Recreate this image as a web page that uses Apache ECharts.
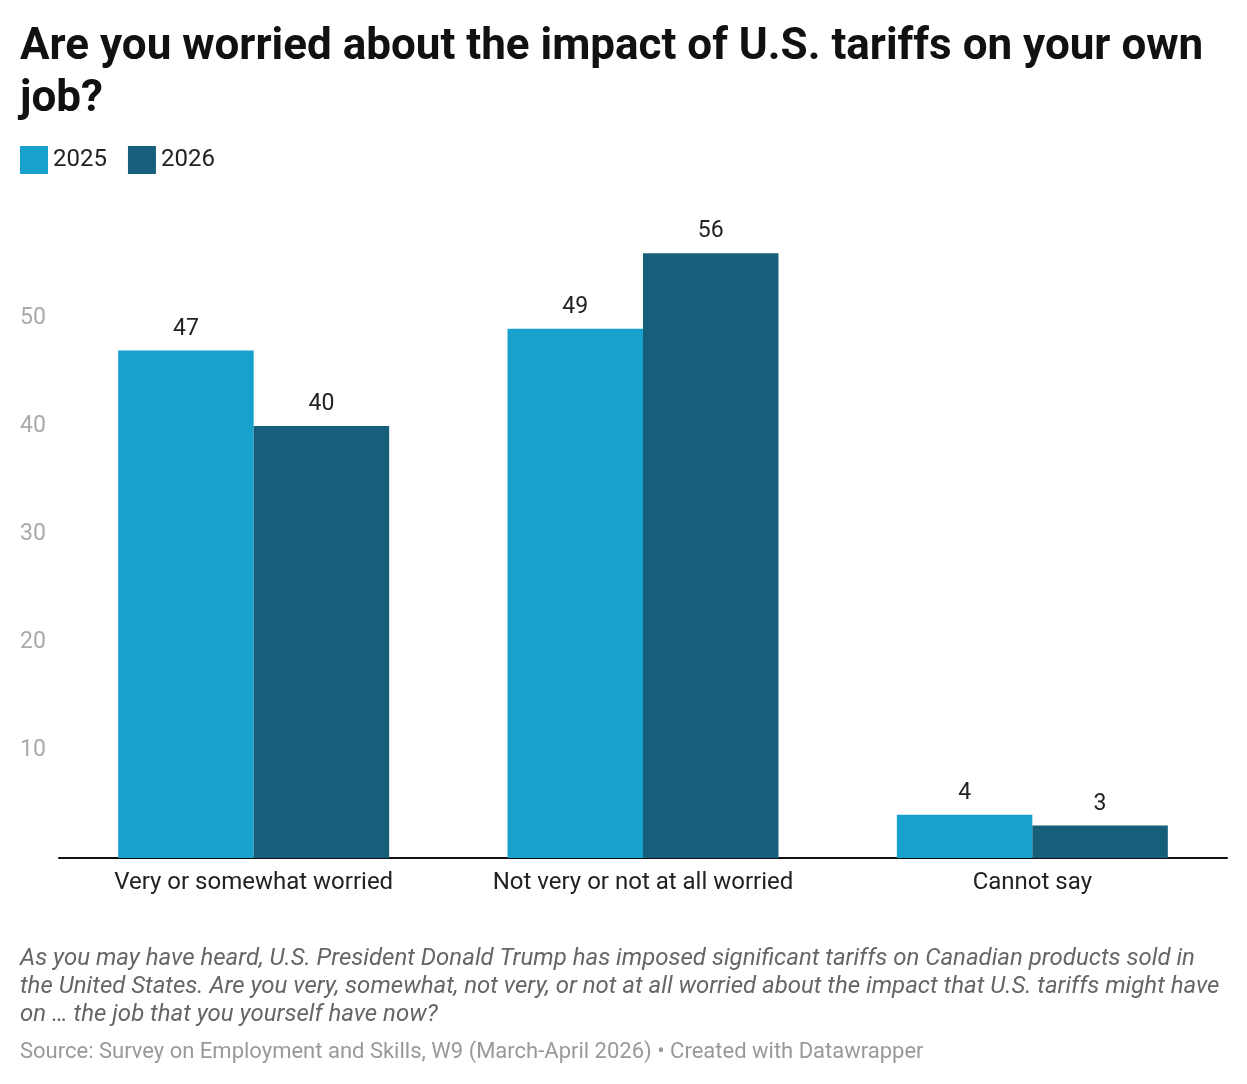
<!DOCTYPE html>
<html style="height: 100%">
<head>
    <meta charset="UTF-8">
    <title>U.S. tariffs</title>
</head>
<body style="height: 100%; margin: 0; background: #fff">
<div id="container" style="height: 100%"></div>
<script src="https://cdn.jsdelivr.net/npm/echarts@6/dist/echarts.min.js"></script>
<script>
    var categories = ['Very or somewhat worried', 'Not very or not at all worried', 'Cannot say'];
    var years = ['2025', '2026'];
    var values2025 = [47, 49, 4];
    var values2026 = [40, 56, 3];
    var yTicks = [10, 20, 30, 40, 50];

    var colors = ['#19a1cd', '#165f7a'];
    var font = 'Roboto, "Noto Sans", sans-serif';

    var myChart = echarts.init(document.getElementById('container'));
    var option = {
        animation: false,
        textStyle: { fontFamily: font },
        title: [
            {
                text: 'Are you worried about the impact of U.S. tariffs on your own\njob?',
                left: 20,
                top: 22,
                padding: 0,
                textStyle: { fontSize: 44, fontWeight: 'bold', color: '#111', lineHeight: 52, fontFamily: font }
            },
            {
                text: 'As you may have heard, U.S. President Donald Trump has imposed significant tariffs on Canadian products sold in\nthe United States. Are you very, somewhat, not very, or not at all worried about the impact that U.S. tariffs might have\non … the job that you yourself have now?',
                left: 20,
                top: 945,
                padding: 0,
                textStyle: { fontSize: 24, fontStyle: 'italic', fontWeight: 'normal', color: '#666', lineHeight: 28, fontFamily: font }
            },
            {
                text: 'Source: Survey on Employment and Skills, W9 (March-April 2026) • Created with Datawrapper',
                left: 20,
                top: 1041,
                padding: 0,
                textStyle: { fontSize: 22, fontWeight: 'normal', color: '#999', fontFamily: font }
            }
        ],
        legend: {
            left: 20,
            top: 146,
            padding: 0,
            itemWidth: 28,
            itemHeight: 28,
            itemGap: 21,
            icon: 'rect',
            textStyle: { fontSize: 24, color: '#222' },
            data: years
        },
        grid: { left: 59, right: 20, top: 210, bottom: 226, containLabel: false },
        xAxis: {
            type: 'category',
            data: categories,
            axisLine: { lineStyle: { color: '#111', width: 2 } },
            axisTick: { show: false },
            axisLabel: { fontSize: 24, color: '#222', margin: 13, interval: 0, hideOverlap: false }
        },
        yAxis: {
            type: 'value',
            min: 0,
            max: 60,
            interval: 10,
            splitLine: { show: false },
            axisLine: { show: false },
            axisTick: { show: false },
            axisLabel: {
                fontSize: 23,
                color: '#aaa',
                align: 'left',
                margin: 39,
                formatter: function (v) { return yTicks.indexOf(v) >= 0 ? String(v) : ''; }
            }
        },
        series: [
            {
                name: years[0],
                type: 'bar',
                data: values2025,
                barGap: '0%',
                barCategoryGap: '30.4%',
                itemStyle: { color: colors[0] },
                label: { show: true, position: 'top', fontSize: 23, color: '#222', distance: 10 }
            },
            {
                name: years[1],
                type: 'bar',
                data: values2026,
                barGap: '0%',
                barCategoryGap: '30.4%',
                itemStyle: { color: colors[1] },
                label: { show: true, position: 'top', fontSize: 23, color: '#222', distance: 10 }
            }
        ]
    };
    myChart.setOption(option);
</script>
</body>
</html>
